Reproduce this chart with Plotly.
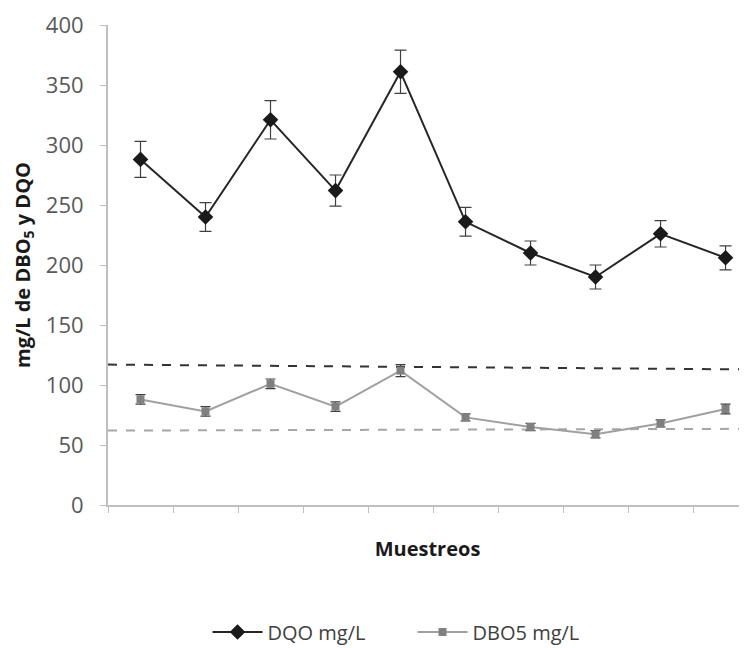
import plotly.graph_objects as go

muestreos = [1, 2, 3, 4, 5, 6, 7, 8, 9, 10]
dqo = [288, 240, 321, 262, 361, 236, 210, 190, 226, 206]
dqo_err = [15, 12, 16, 13, 18, 12, 10, 10, 11, 10]
dbo5 = [88, 78, 101, 82, 112, 73, 65, 59, 68, 80]
dbo5_err = [4, 4, 4, 4, 5, 3, 3, 3, 3, 4]
limite_dqo = [117, 113]
limite_dbo5 = [62, 63.5]
y_ticks = [0, 50, 100, 150, 200, 250, 300, 350, 400]

x_idx = list(range(len(muestreos)))
x_lo, x_hi = -0.5, 9.33

fig = go.Figure()
fig.add_trace(go.Scatter(
    x=[x_lo, x_hi], y=limite_dqo, mode="lines",
    line=dict(color="#333333", width=2, dash="dash"),
    showlegend=False, hoverinfo="skip"))
fig.add_trace(go.Scatter(
    x=[x_lo, x_hi], y=limite_dbo5, mode="lines",
    line=dict(color="#a6a6a6", width=2, dash="dash"),
    showlegend=False, hoverinfo="skip"))
fig.add_trace(go.Scatter(
    x=x_idx, y=dqo, name="DQO mg/L", mode="lines+markers",
    line=dict(color="#262626", width=2),
    marker=dict(symbol="diamond", size=12, color="#1a1a1a"),
    error_y=dict(type="data", array=dqo_err, color="#404040", thickness=1.2, width=6)))
fig.add_trace(go.Scatter(
    x=x_idx, y=dbo5, name="DBO5 mg/L", mode="lines+markers",
    line=dict(color="#a0a0a0", width=2),
    marker=dict(symbol="square", size=8, color="#808080"),
    error_y=dict(type="data", array=dbo5_err, color="#404040", thickness=1.2, width=5)))

fig.update_layout(
    width=739, height=640,
    margin=dict(l=100, r=0, t=17, b=143, autoexpand=False),
    paper_bgcolor="white", plot_bgcolor="white",
    font=dict(family="Open Sans, Liberation Sans, sans-serif", color="#595959"),
    showlegend=True,
    legend=dict(orientation="h", x=0.270, xanchor="left", xref="container",
                y=0.025, yanchor="middle", yref="container",
                font=dict(size=20, color="#404040"), itemwidth=50,
                entrywidth=140, entrywidthmode="pixels"),
)
fig.update_xaxes(
    range=[x_lo, x_hi], tickmode="array", tickvals=[i - 0.5 for i in x_idx] + [9.5],
    ticktext=[""] * 11, ticks="outside", ticklen=6, tickcolor="#bfbfbf",
    showline=True, linecolor="#bfbfbf", linewidth=2, showgrid=False, zeroline=False,
    title=dict(text="<b>Muestreos</b>", font=dict(size=20, color="#1a1a1a"), standoff=28))
fig.update_yaxes(
    range=[0, 400], tickmode="array", tickvals=y_ticks,
    ticks="outside", ticklen=6, tickcolor="#bfbfbf",
    showline=True, linecolor="#bfbfbf", linewidth=2, showgrid=False, zeroline=False,
    tickfont=dict(size=22, color="#595959"), ticklabelstandoff=12,
    title=dict(text="<b>mg/L de DBO<sub>5</sub> y DQO</b>", font=dict(size=20, color="#1a1a1a"), standoff=10))

fig.write_html("out.html")
